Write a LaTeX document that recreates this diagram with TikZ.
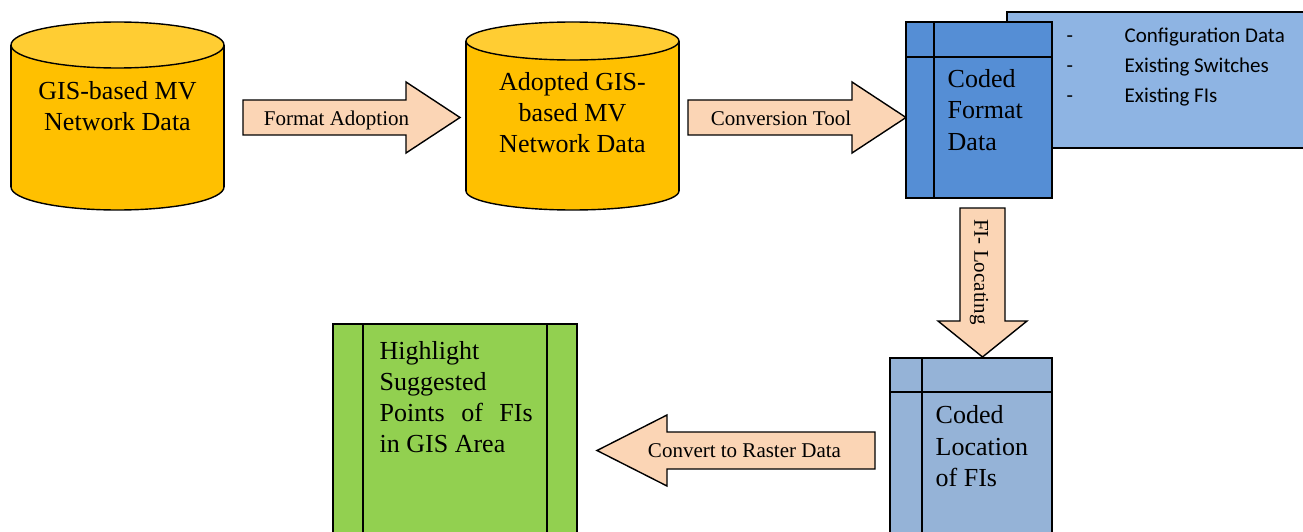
\documentclass[tikz,border=0pt]{standalone}
\usepackage{fontspec}
\setmainfont{Liberation Serif}
\newfontfamily\carlito{Carlito}
\definecolor{cylbody}{HTML}{FFC000}
\definecolor{cyltop}{HTML}{FFCD33}
\definecolor{arrowfill}{HTML}{FBD5B5}
\definecolor{codedblue}{HTML}{558ED5}
\definecolor{backblue}{HTML}{8EB4E3}
\definecolor{locblue}{HTML}{95B3D7}
\definecolor{hlgreen}{HTML}{92D050}
\begin{document}
\begin{tikzpicture}[x=1pt,y=-1pt, line width=1.4pt, line join=miter,
  big/.style={font=\fontsize{26}{30}\selectfont, inner sep=0pt},
  lbl/.style={font=\fontsize{21}{24}\selectfont, inner sep=0pt},
  listtxt/.style={font=\carlito\fontsize{21}{24}\selectfont, inner sep=0pt, anchor=base west},
  blockarrow/.style={draw=black, fill=arrowfill},
  boxline/.style={draw=black}
]
\useasboundingbox (0,0) rectangle (1303,532);

% ---------- cylinder 1 ----------
\filldraw[fill=cylbody] (117.5,187) ellipse[x radius=106.5pt, y radius=23pt];
\fill[cylbody] (11,45) rectangle (224,187);
\draw (11,45) -- (11,187) (224,45) -- (224,187);
\filldraw[fill=cyltop] (117.5,45) ellipse[x radius=106.5pt, y radius=23pt];
\node[big, anchor=base] (c1a) at (117.5,100) {GIS-based MV};
\node[big, anchor=base] (c1b) at (117.5,131) {Network Data};

% ---------- cylinder 2 ----------
\filldraw[fill=cylbody] (572.5,191) ellipse[x radius=106.5pt, y radius=19pt];
\fill[cylbody] (466,41) rectangle (679,191);
\draw (466,41) -- (466,191) (679,41) -- (679,191);
\filldraw[fill=cyltop] (572.5,41) ellipse[x radius=106.5pt, y radius=19pt];
\node[big, anchor=base] (c2a) at (572.5,91) {Adopted GIS-};
\node[big, anchor=base] (c2b) at (572.5,122) {based MV};
\node[big, anchor=base] (c2c) at (572.5,152) {Network Data};

% ---------- arrow: Format Adoption ----------
\filldraw[blockarrow] (243,100) -- (406,100) -- (406,82) -- (460,117.5)
  -- (406,153) -- (406,135) -- (243,135) -- cycle;
\node[lbl, anchor=base] (fa) at (336.5,125) {Format Adoption};

% ---------- arrow: Conversion Tool ----------
\filldraw[blockarrow] (688,100) -- (852,100) -- (852,82) -- (906,117.5)
  -- (852,153) -- (852,135) -- (688,135) -- cycle;
\node[lbl, anchor=base] (ct) at (781,125) {Conversion Tool};

% ---------- Coded Format Data ----------
\filldraw[fill=backblue] (1007,12) rectangle (1320,148);
\node[listtxt] (d1) at (1066,43) {-};
\node[listtxt] (d2) at (1066,73) {-};
\node[listtxt] (d3) at (1066,103) {-};
\node[listtxt] (l1) at (1124,43) {Configuration Data};
\node[listtxt] (l2) at (1124,73) {Existing Switches};
\node[listtxt] (l3) at (1124,103) {Existing FIs};
\filldraw[fill=codedblue] (906,22) rectangle (1052,198);
\draw (934,22) -- (934,198) (906,57) -- (1052,57);
\node[big, anchor=base west] (cf1) at (947,88) {Coded};
\node[big, anchor=base west] (cf2) at (947,119) {Format};
\node[big, anchor=base west] (cf3) at (947,150) {Data};

% ---------- arrow: FI- Locating ----------
\filldraw[blockarrow] (960,208) -- (1005,208) -- (1005,321) -- (1027,321)
  -- (982.5,357) -- (938,321) -- (960,321) -- cycle;
\node[lbl, rotate=-90] (fil) at (979,272) {FI- Locating};

% ---------- Coded Location of FIs ----------
\filldraw[fill=locblue] (890,358) rectangle (1052,545);
\draw (922,358) -- (922,545) (890,392) -- (1052,392);
\node[big, anchor=base west] (cl1) at (935,423) {Coded};
\node[big, anchor=base west] (cl2) at (935,455) {Location};
\node[big, anchor=base west] (cl3) at (935,486) {of FIs};

% ---------- arrow: Convert to Raster Data ----------
\filldraw[blockarrow] (875,432) -- (667,432) -- (667,415) -- (597,450.5)
  -- (667,486) -- (667,469) -- (875,469) -- cycle;
\node[lbl, anchor=base] (crd) at (744.5,457) {Convert to Raster Data};

% ---------- Highlight box ----------
\filldraw[fill=hlgreen] (333,324) rectangle (577,545);
\draw (363,324) -- (363,545) (547,324) -- (547,545);
\node[big, anchor=base west] (h1) at (379,359) {Highlight};
\node[big, anchor=base west] (h2) at (379,390) {Suggested};
\node[big, anchor=base west] (h3) at (379,421) {\makebox[153pt][s]{Points of FIs}};
\node[big, anchor=base west] (h4) at (379,452) {in GIS Area};
\end{tikzpicture}
\end{document}
